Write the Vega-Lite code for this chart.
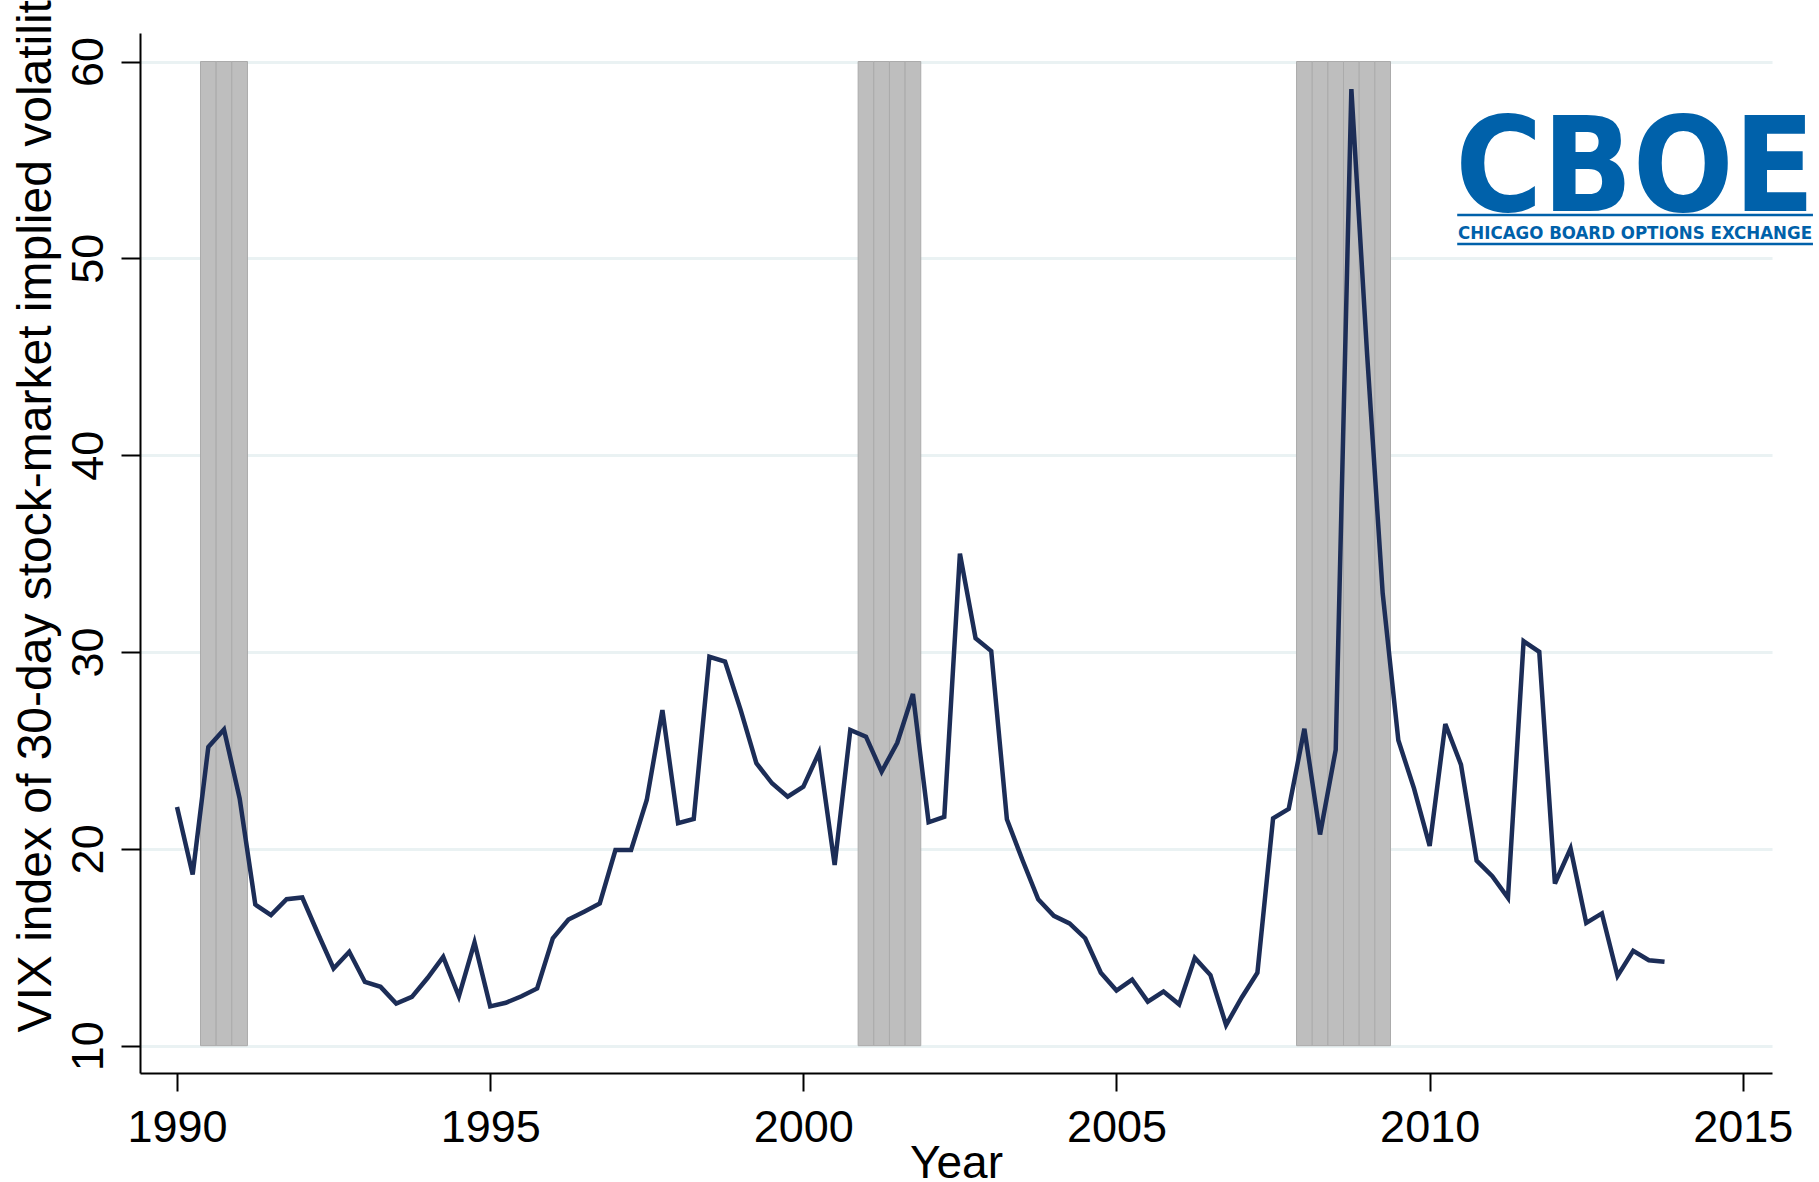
{
  "$schema": "https://vega.github.io/schema/vega-lite/v6.json",
  "width": 1632,
  "height": 1040,
  "autosize": {"type": "none"},
  "padding": {"left": 140, "top": 33, "right": 47, "bottom": 109},
  "background": "white",
  "config": {
    "view": {"stroke": null},
    "font": "Liberation Sans",
    "axis": {
      "domainColor": "black",
      "domainWidth": 2,
      "tickColor": "black",
      "tickWidth": 2,
      "tickSize": 19,
      "labelFont": "Liberation Sans",
      "labelFontSize": 45,
      "labelColor": "black",
      "titleFont": "Liberation Sans",
      "titleFontSize": 46,
      "titleColor": "black",
      "titleFontWeight": "normal"
    }
  },
  "datasets": {
    "vix": [
      {"t": 1990.00, "vix": 22.13}, {"t": 1990.25, "vix": 18.70}, {"t": 1990.50, "vix": 25.18}, {"t": 1990.75, "vix": 26.07},
      {"t": 1991.00, "vix": 22.56}, {"t": 1991.25, "vix": 17.17}, {"t": 1991.50, "vix": 16.63}, {"t": 1991.75, "vix": 17.44},
      {"t": 1992.00, "vix": 17.53}, {"t": 1992.25, "vix": 15.70}, {"t": 1992.50, "vix": 13.92}, {"t": 1992.75, "vix": 14.77},
      {"t": 1993.00, "vix": 13.24}, {"t": 1993.25, "vix": 12.99}, {"t": 1993.50, "vix": 12.14}, {"t": 1993.75, "vix": 12.48},
      {"t": 1994.00, "vix": 13.44}, {"t": 1994.25, "vix": 14.51}, {"t": 1994.50, "vix": 12.51}, {"t": 1994.75, "vix": 15.24},
      {"t": 1995.00, "vix": 12.00}, {"t": 1995.25, "vix": 12.18}, {"t": 1995.50, "vix": 12.51}, {"t": 1995.75, "vix": 12.91},
      {"t": 1996.00, "vix": 15.45}, {"t": 1996.25, "vix": 16.41}, {"t": 1996.50, "vix": 16.81}, {"t": 1996.75, "vix": 17.23},
      {"t": 1997.00, "vix": 19.94}, {"t": 1997.25, "vix": 19.94}, {"t": 1997.50, "vix": 22.48}, {"t": 1997.75, "vix": 27.05},
      {"t": 1998.00, "vix": 21.30}, {"t": 1998.25, "vix": 21.52}, {"t": 1998.50, "vix": 29.76}, {"t": 1998.75, "vix": 29.51},
      {"t": 1999.00, "vix": 27.05}, {"t": 1999.25, "vix": 24.35}, {"t": 1999.50, "vix": 23.33}, {"t": 1999.75, "vix": 22.65},
      {"t": 2000.00, "vix": 23.16}, {"t": 2000.25, "vix": 24.89}, {"t": 2000.50, "vix": 19.18}, {"t": 2000.75, "vix": 26.04},
      {"t": 2001.00, "vix": 25.70}, {"t": 2001.25, "vix": 23.92}, {"t": 2001.50, "vix": 25.39}, {"t": 2001.75, "vix": 27.87},
      {"t": 2002.00, "vix": 21.35}, {"t": 2002.25, "vix": 21.63}, {"t": 2002.50, "vix": 35.00}, {"t": 2002.75, "vix": 30.70},
      {"t": 2003.00, "vix": 30.05}, {"t": 2003.25, "vix": 21.50}, {"t": 2003.50, "vix": 19.42}, {"t": 2003.75, "vix": 17.44},
      {"t": 2004.00, "vix": 16.60}, {"t": 2004.25, "vix": 16.21}, {"t": 2004.50, "vix": 15.46}, {"t": 2004.75, "vix": 13.71},
      {"t": 2005.00, "vix": 12.80}, {"t": 2005.25, "vix": 13.36}, {"t": 2005.50, "vix": 12.24}, {"t": 2005.75, "vix": 12.75},
      {"t": 2006.00, "vix": 12.10}, {"t": 2006.25, "vix": 14.46}, {"t": 2006.50, "vix": 13.59}, {"t": 2006.75, "vix": 11.05},
      {"t": 2007.00, "vix": 12.45}, {"t": 2007.25, "vix": 13.71}, {"t": 2007.50, "vix": 21.55}, {"t": 2007.75, "vix": 22.03},
      {"t": 2008.00, "vix": 26.10}, {"t": 2008.25, "vix": 20.73}, {"t": 2008.50, "vix": 25.03}, {"t": 2008.75, "vix": 58.60},
      {"t": 2009.00, "vix": 45.20}, {"t": 2009.25, "vix": 32.98}, {"t": 2009.50, "vix": 25.52}, {"t": 2009.75, "vix": 23.07},
      {"t": 2010.00, "vix": 20.15}, {"t": 2010.25, "vix": 26.34}, {"t": 2010.50, "vix": 24.28}, {"t": 2010.75, "vix": 19.40},
      {"t": 2011.00, "vix": 18.61}, {"t": 2011.25, "vix": 17.51}, {"t": 2011.50, "vix": 30.55}, {"t": 2011.75, "vix": 30.01},
      {"t": 2012.00, "vix": 18.24}, {"t": 2012.25, "vix": 20.02}, {"t": 2012.50, "vix": 16.24}, {"t": 2012.75, "vix": 16.72},
      {"t": 2013.00, "vix": 13.55}, {"t": 2013.25, "vix": 14.82}, {"t": 2013.50, "vix": 14.34}, {"t": 2013.75, "vix": 14.26}
    ],
    "rec": [
      {"from": 1990.375, "to": 1990.625}, {"from": 1990.625, "to": 1990.875}, {"from": 1990.875, "to": 1991.125},
      {"from": 2000.875, "to": 2001.125}, {"from": 2001.125, "to": 2001.375}, {"from": 2001.375, "to": 2001.625}, {"from": 2001.625, "to": 2001.875},
      {"from": 2007.875, "to": 2008.125}, {"from": 2008.125, "to": 2008.375}, {"from": 2008.375, "to": 2008.625},
      {"from": 2008.625, "to": 2008.875}, {"from": 2008.875, "to": 2009.125}, {"from": 2009.125, "to": 2009.375}
    ],
    "one": [{"k": 1}]
  },
  "layer": [
    {
      "data": {"name": "rec"},
      "mark": {"type": "rect", "color": "#BEBEBE", "stroke": "#ABABAB", "strokeWidth": 1},
      "encoding": {
        "x": {
          "field": "from", "type": "quantitative", "title": "Year",
          "scale": {"domain": [1989.409, 2015.466], "nice": false, "zero": false},
          "axis": {
            "values": [1990, 1995, 2000, 2005, 2010, 2015], "format": "d",
            "grid": false, "tickSize": 18, "labelPadding": 14,
            "labelFlush": false, "labelOverlap": false,
            "titleY": 104, "titleBaseline": "alphabetic"
          }
        },
        "x2": {"field": "to"},
        "y": {
          "datum": 10, "type": "quantitative",
          "title": "VIX index of 30-day stock-market implied volatility",
          "scale": {"domain": [8.613, 61.448], "nice": false, "zero": false},
          "axis": {
            "values": [10, 20, 30, 40, 50, 60], "format": "d",
            "grid": true, "gridColor": "#EAF2F3", "gridWidth": 3,
            "labelAngle": 270, "labelAlign": "center", "labelBaseline": "alphabetic",
            "labelPadding": 19, "labelOverlap": false,
            "titleAngle": 270, "titleAlign": "left", "titleBaseline": "alphabetic",
            "titleFontSize": 48,
            "titleX": -90, "titleY": 999
          }
        },
        "y2": {"datum": 60}
      }
    },
    {
      "data": {"name": "vix"},
      "mark": {"type": "line", "color": "#1C2D57", "strokeWidth": 4.5},
      "encoding": {
        "x": {"field": "t", "type": "quantitative", "title": "Year"},
        "y": {"field": "vix", "type": "quantitative", "title": "VIX index of 30-day stock-market implied volatility"}
      }
    },
    {
      "data": {"name": "one"},
      "mark": {"type": "text", "text": "CBOE", "font": "DejaVu Sans Condensed, Roboto, sans-serif", "fontWeight": "bold", "fontSize": 132, "color": "#0061AA", "align": "center", "baseline": "alphabetic"},
      "encoding": {
        "x": {"datum": 2013.28, "type": "quantitative", "title": "Year"},
        "y": {"datum": 52.4, "type": "quantitative", "title": "VIX index of 30-day stock-market implied volatility"}
      }
    },
    {
      "data": {"name": "one"},
      "mark": {"type": "text", "text": "CHICAGO BOARD OPTIONS EXCHANGE", "font": "DejaVu Sans Condensed, Roboto, sans-serif", "fontWeight": "bold", "fontSize": 18.5, "color": "#0061AA", "align": "center", "baseline": "alphabetic"},
      "encoding": {
        "x": {"datum": 2013.28, "type": "quantitative", "title": "Year"},
        "y": {"datum": 50.98, "type": "quantitative", "title": "VIX index of 30-day stock-market implied volatility"}
      }
    },
    {
      "data": {"name": "one"},
      "mark": {"type": "rule", "color": "#0061AA", "strokeWidth": 2.5},
      "encoding": {
        "x": {"datum": 2010.44, "type": "quantitative", "title": "Year"},
        "x2": {"datum": 2016.12},
        "y": {"datum": 52.2, "type": "quantitative", "title": "VIX index of 30-day stock-market implied volatility"}
      }
    },
    {
      "data": {"name": "one"},
      "mark": {"type": "rule", "color": "#0061AA", "strokeWidth": 2.5},
      "encoding": {
        "x": {"datum": 2010.44, "type": "quantitative", "title": "Year"},
        "x2": {"datum": 2016.12},
        "y": {"datum": 50.73, "type": "quantitative", "title": "VIX index of 30-day stock-market implied volatility"}
      }
    }
  ]
}
